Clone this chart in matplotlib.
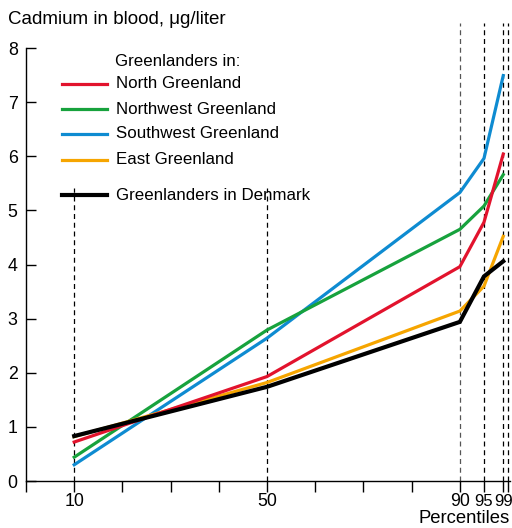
import matplotlib.pyplot as plt
from matplotlib.lines import Line2D

plt.rcParams['font.family'] = ['Liberation Sans', 'DejaVu Sans']

# percentile positions and cadmium levels (ug/liter)
percentiles = [10, 50, 90, 95, 99]
north = [0.72, 1.93, 3.96, 4.78, 6.04]
northwest = [0.44, 2.79, 4.65, 5.08, 5.66]
southwest = [0.30, 2.64, 5.33, 5.96, 7.49]
east = [0.82, 1.82, 3.14, 3.60, 4.52]
denmark = [0.83, 1.74, 2.94, 3.78, 4.06]

series_names = ["North Greenland", "Northwest Greenland", "Southwest Greenland",
                "East Greenland", "Greenlanders in Denmark"]
colors = ['#e2132d', '#17a23d', '#0e8bd1', '#f6a500', '#000000']

fig = plt.figure(figsize=(5.12, 5.28), dpi=100)
ax = fig.add_axes([26 / 512, 1 - 481 / 528, 484 / 512, 458 / 528])

ymax = 8 + 25 / 54.1
ax.set_xlim(0, 100.4)
ax.set_ylim(0, ymax)

# dashed guide lines
for p, top, col in [(10, 5.42, 'k'), (50, 5.42, 'k'), (90, ymax, '#555555'),
                    (95, ymax, 'k'), (99, ymax, 'k'), (100, ymax, 'k')]:
    ax.plot([p, p], [0, top], color=col, lw=0.9, ls=(0, (4, 3)), zorder=1)

data = [north, northwest, southwest, east, denmark]
order = [2, 1, 3, 0, 4]
for i in order:
    lw = 3.0 if i == 4 else 2.3
    ax.plot(percentiles, data[i], color=colors[i], lw=lw, zorder=3,
            solid_joinstyle='miter')

# spines / ticks
ax.spines['top'].set_visible(False)
ax.spines['right'].set_visible(False)
ax.spines['left'].set_bounds(0, 8)
ax.spines['left'].set_linewidth(1.0)
ax.spines['bottom'].set_linewidth(1.0)

ax.set_yticks(range(0, 9))
ax.tick_params(axis='y', direction='in', length=7, width=1, labelsize=12.8, pad=6)

xt = [0, 10, 20, 30, 40, 50, 60, 70, 80, 90, 95, 99, 100]
xl = ['', '10', '', '', '', '50', '', '', '', '90', '95', '99', '']
ax.set_xticks(xt)
ax.set_xticklabels(xl)
ax.tick_params(axis='x', direction='out', length=8, width=1, labelsize=12.8, pad=1)
for lab in ax.get_xticklabels():
    if lab.get_text() in ('95', '99'):
        lab.set_fontsize(12)
        lab.set_family(['Liberation Sans Narrow', 'Liberation Sans'])

# legend drawn by hand
ax.text(0.184, 0.915, "Greenlanders in:", transform=ax.transAxes,
        fontsize=12.2, va='center', ha='left')
leg_y = [0.867, 0.812, 0.758, 0.701, 0.624]
for i, y in enumerate(leg_y):
    lw = 3.0 if i == 4 else 2.3
    ax.add_line(Line2D([0.074, 0.167], [y, y], transform=ax.transAxes,
                       color=colors[i], lw=lw))
    ax.text(0.186, y, series_names[i], transform=ax.transAxes,
            fontsize=12.2, va='center', ha='left')

fig.text(8 / 512, 1 - 20 / 528, "Cadmium in blood, \u03bcg/liter",
         fontsize=13.5, va='center', ha='left')
fig.text(510 / 512, 1 / 528, "Percentiles", fontsize=13.3,
         va='bottom', ha='right')

fig.savefig("out.png", dpi=100)
